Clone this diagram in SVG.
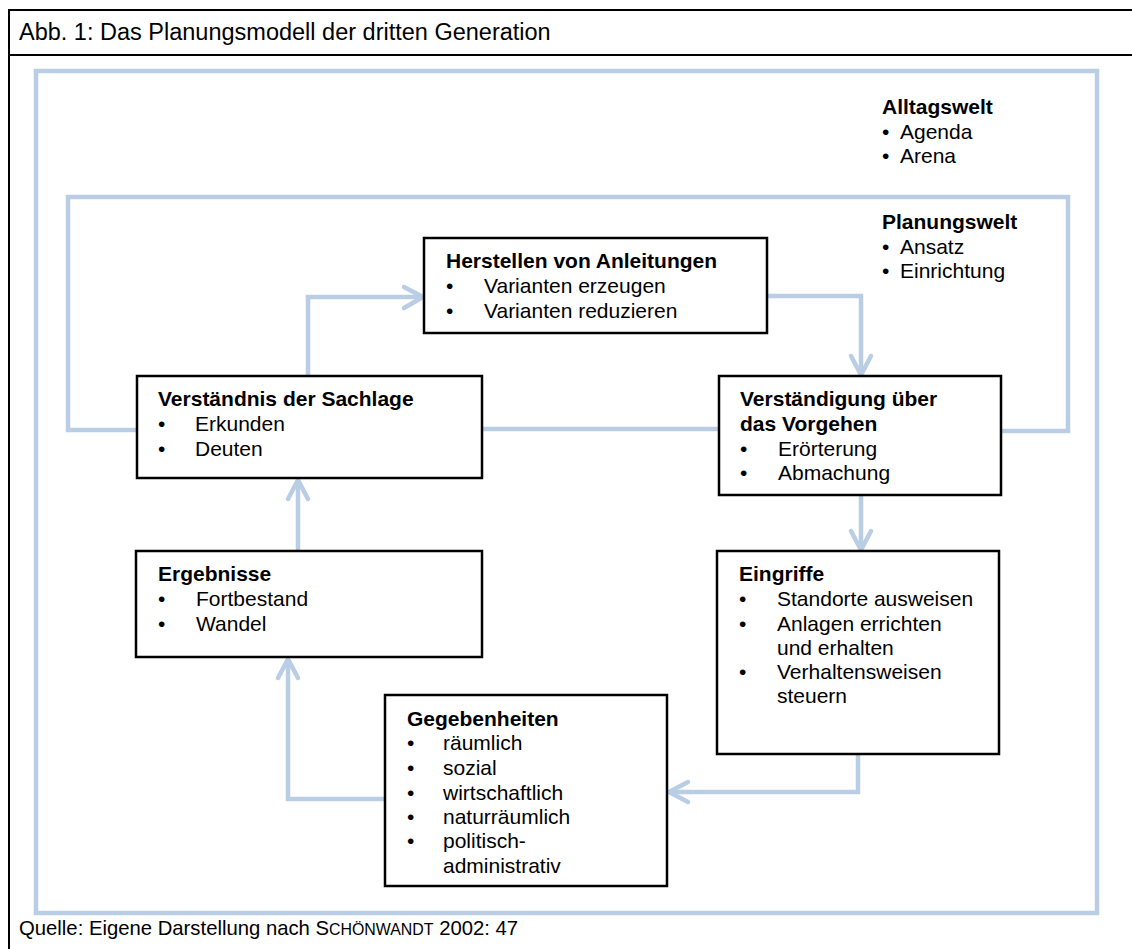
<svg xmlns="http://www.w3.org/2000/svg" width="1132" height="949" viewBox="0 0 1132 949">
  <style>
    text { font-family: "Liberation Sans", Arial, sans-serif; font-size: 21px; fill: #000; }
    text.title { font-size: 23.5px; }
    text.src { font-size: 20.3px; }
    .sc { font-size: 15.9px; }
    .h { font-weight: bold; }
    .box { fill: #fff; stroke: #000; stroke-width: 2.5; }
    .frame { fill: none; stroke: #000; stroke-width: 2; }
    .flow { fill: none; stroke: #b9cde5; stroke-width: 4.5; stroke-linejoin: miter; }
    .head { fill: none; stroke: #b9cde5; stroke-width: 4.5; stroke-linecap: round; stroke-linejoin: round; }
  </style>

  <!-- figure frame with caption row -->
  <g id="frame">
    <rect x="0" y="0" width="1132" height="949" fill="#fff"/>
    <path class="frame" d="M9,949 V10 H1132 M9,55 H1132"/>
    <text class="title" x="19" y="40">Abb. 1: Das Planungsmodell der dritten Generation</text>
    <text class="src" x="19" y="935">Quelle: Eigene Darstellung nach S<tspan class="sc">CHÖNWANDT</tspan> 2002: 47</text>
  </g>

  <!-- world frames and flow connectors -->
  <g id="connectors">
    <rect class="flow" x="36" y="71" width="1061" height="842"/>
    <path class="flow" d="M137,430 H68 V197 H1068 V431 H1001"/>
    <path class="flow" d="M482,429 H719"/>
    <!-- Verständnis -> Herstellen -->
    <path class="flow" d="M308,376 V297 H422"/>
    <path class="head" d="M404,287 L423,297 L404,308"/>
    <!-- Herstellen -> Verständigung -->
    <path class="flow" d="M767,296 H861 V374"/>
    <path class="head" d="M851,356 L861,375 L871,356"/>
    <!-- Verständigung -> Eingriffe -->
    <path class="flow" d="M861,495 V549"/>
    <path class="head" d="M851,531 L861,550 L871,531"/>
    <!-- Eingriffe -> Gegebenheiten -->
    <path class="flow" d="M858,754 V792 H669"/>
    <path class="head" d="M688,782 L669,792 L688,802"/>
    <!-- Gegebenheiten -> Ergebnisse -->
    <path class="flow" d="M385,799 H288 V659"/>
    <path class="head" d="M278,678 L288,659 L298,678"/>
    <!-- Ergebnisse -> Verständnis -->
    <path class="flow" d="M298,551 V480"/>
    <path class="head" d="M288,499 L298,480 L308,499"/>
  </g>

  <g id="alltagswelt">
    <text class="h" x="882" y="114">Alltagswelt</text>
    <text x="882" y="139">•</text><text x="900" y="139">Agenda</text>
    <text x="882" y="163">•</text><text x="900" y="163">Arena</text>
  </g>

  <g id="planungswelt">
    <text class="h" x="882" y="229">Planungswelt</text>
    <text x="882" y="254">•</text><text x="900" y="254">Ansatz</text>
    <text x="882" y="278">•</text><text x="900" y="278">Einrichtung</text>
  </g>

  <g id="herstellen">
    <rect class="box" x="424" y="238" width="343" height="95"/>
    <text class="h" x="446" y="268">Herstellen von Anleitungen</text>
    <text x="446" y="293">•</text><text x="484" y="293">Varianten erzeugen</text>
    <text x="446" y="318">•</text><text x="484" y="318">Varianten reduzieren</text>
  </g>

  <g id="verstaendnis">
    <rect class="box" x="137" y="376" width="345" height="102"/>
    <text class="h" x="158" y="406">Verständnis der Sachlage</text>
    <text x="158" y="431">•</text><text x="195" y="431">Erkunden</text>
    <text x="158" y="456">•</text><text x="195" y="456">Deuten</text>
  </g>

  <g id="verstaendigung">
    <rect class="box" x="719" y="376" width="282" height="119"/>
    <text class="h" x="740" y="406">Verständigung über</text>
    <text class="h" x="740" y="431">das Vorgehen</text>
    <text x="740" y="456">•</text><text x="778" y="456">Erörterung</text>
    <text x="740" y="480">•</text><text x="778" y="480">Abmachung</text>
  </g>

  <g id="ergebnisse">
    <rect class="box" x="136" y="551" width="346" height="106"/>
    <text class="h" x="158" y="581">Ergebnisse</text>
    <text x="158" y="606">•</text><text x="196" y="606">Fortbestand</text>
    <text x="158" y="631">•</text><text x="196" y="631">Wandel</text>
  </g>

  <g id="eingriffe">
    <rect class="box" x="717" y="551" width="282" height="203"/>
    <text class="h" x="739" y="581">Eingriffe</text>
    <text x="739" y="606">•</text><text x="777" y="606">Standorte ausweisen</text>
    <text x="739" y="631">•</text><text x="777" y="631">Anlagen errichten</text>
    <text x="777" y="655">und erhalten</text>
    <text x="739" y="679">•</text><text x="777" y="679">Verhaltensweisen</text>
    <text x="777" y="703">steuern</text>
  </g>

  <g id="gegebenheiten">
    <rect class="box" x="385" y="695" width="282" height="191"/>
    <text class="h" x="407" y="726">Gegebenheiten</text>
    <text x="407" y="750">•</text><text x="443" y="750">räumlich</text>
    <text x="407" y="775">•</text><text x="443" y="775">sozial</text>
    <text x="407" y="800">•</text><text x="443" y="800">wirtschaftlich</text>
    <text x="407" y="824">•</text><text x="443" y="824">naturräumlich</text>
    <text x="407" y="848">•</text><text x="443" y="848">politisch-</text>
    <text x="443" y="873">administrativ</text>
  </g>
</svg>
